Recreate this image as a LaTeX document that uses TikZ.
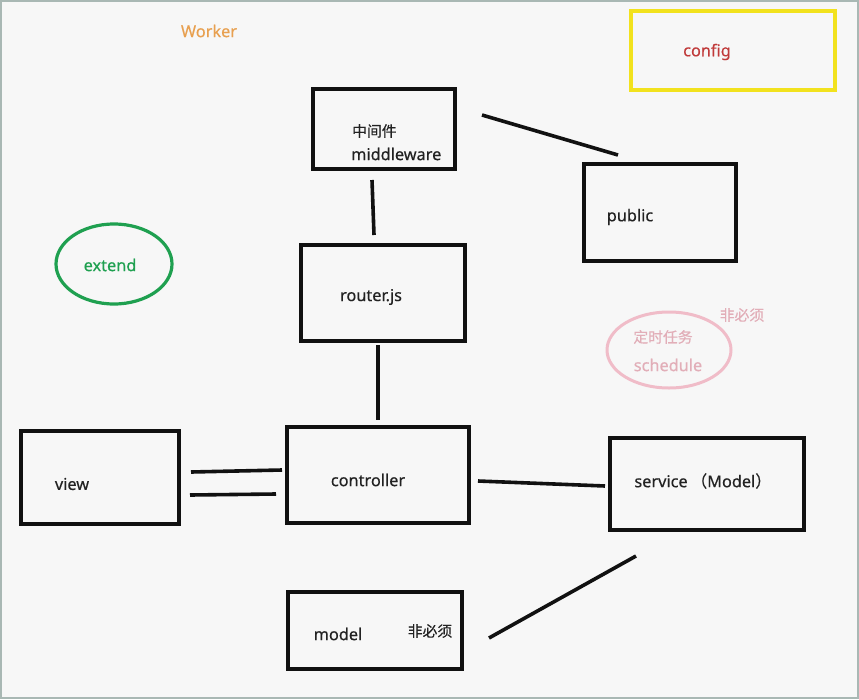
\documentclass[tikz,border=0pt]{standalone}
\usepackage{fontspec}
\setmainfont{Noto Sans}[FakeBold=0.4]
\newfontfamily\cjk{Noto Sans CJK SC}[FakeBold=0.4]
\definecolor{paper}{HTML}{F7F7F7}
\definecolor{frame}{HTML}{A9B8B4}
\definecolor{workerc}{HTML}{E8A050}
\definecolor{configbox}{HTML}{F2E21E}
\definecolor{configtext}{HTML}{C03A3A}
\definecolor{extendc}{HTML}{1FA050}
\definecolor{schedc}{HTML}{F0BCC8}
\definecolor{schedtext}{HTML}{E2AEB8}
\definecolor{ink}{HTML}{111111}
\definecolor{labelc}{HTML}{222222}
\tikzset{
  box/.style={draw=ink, line width=3.4pt},
  link/.style={draw=ink, line width=3.6pt},
  lbl/.style={text=labelc, font=\fontsize{16.3}{19}\selectfont, inner sep=0pt},
  cjklbl/.style={text=labelc, font=\cjk\fontsize{14.8}{17}\selectfont, inner sep=0pt},
}
\begin{document}
\begin{tikzpicture}[x=1pt,y=-1pt]
  % canvas and its frame
  \useasboundingbox (0,0) rectangle (859,699);
  \fill[paper] (0,0) rectangle (859,699);
  \draw[frame, line width=1.6pt] (1,1) rectangle (858,698);

  % title
  \node[lbl, text=workerc] (worker) at (209,31) {Worker};

  % config
  \draw[configbox, line width=3.8pt] (631,11) rectangle (835,90);
  \node[lbl, text=configtext] (config) at (707,52) {config};

  % middleware
  \draw[box] (313,89) rectangle (455,169);
  \node[cjklbl, anchor=west] (mwcn) at (352,131) {中间件};
  \node[lbl, anchor=west] (mwen) at (351,154) {middleware};

  % public
  \draw[box] (584,164) rectangle (736,261);
  \node[lbl] (public) at (630,217) {public};

  % router
  \draw[box] (301,245) rectangle (465,341);
  \node[lbl] (router) at (371,297) {router.js};

  % extend
  \draw[extendc, line width=3.2pt] (114,264) ellipse [x radius=58, y radius=40];
  \node[lbl, text=extendc] (extend) at (110,265) {extend};

  % schedule
  \draw[schedc, line width=3pt] (669,350) ellipse [x radius=62, y radius=38];
  \node[cjklbl, text=schedtext] (schedcn) at (663,337) {定时任务};
  \node[lbl, text=schedtext] (schedule) at (668,365) {schedule};
  \node[cjklbl, text=schedtext] (schedopt) at (742,315) {非必须};

  % view
  \draw[box] (21,431) rectangle (179,524);
  \node[lbl] (view) at (72,484) {view};

  % controller
  \draw[box] (287,427) rectangle (469,523);
  \node[lbl] (controller) at (368,480) {controller};

  % service
  \draw[box] (610,438) rectangle (804,530);
  \node[lbl] (service) at (703,481) {service\hspace{0.2em}{\cjk （}Model{\cjk ）}};

  % model
  \draw[box] (288,592) rectangle (462,669);
  \node[lbl] (model) at (338,634) {model};
  \node[cjklbl] (modelopt) at (430,631) {非必须};

  % connectors (hand drawn, loose ends)
  \coordinate (mwR) at (482,115);   \coordinate (pubT) at (618,155);
  \coordinate (mwB) at (372,180);   \coordinate (rtT) at (374,235);
  \coordinate (rtB) at (378,345);   \coordinate (ctT) at (378,420);
  \coordinate (vA1) at (191,472);   \coordinate (cA1) at (282,470);
  \coordinate (vA2) at (190,495);   \coordinate (cA2) at (276,494);
  \coordinate (ctR) at (478,481);   \coordinate (svL) at (605,486);
  \coordinate (svB) at (636,556);   \coordinate (mdR) at (489,638);
  \draw[link] (mwR) -- (pubT);
  \draw[link] (mwB) -- (rtT);
  \draw[link] (rtB) -- (ctT);
  \draw[link] (vA1) -- (cA1);
  \draw[link] (vA2) -- (cA2);
  \draw[link] (ctR) -- (svL);
  \draw[link] (svB) -- (mdR);
\end{tikzpicture}
\end{document}
